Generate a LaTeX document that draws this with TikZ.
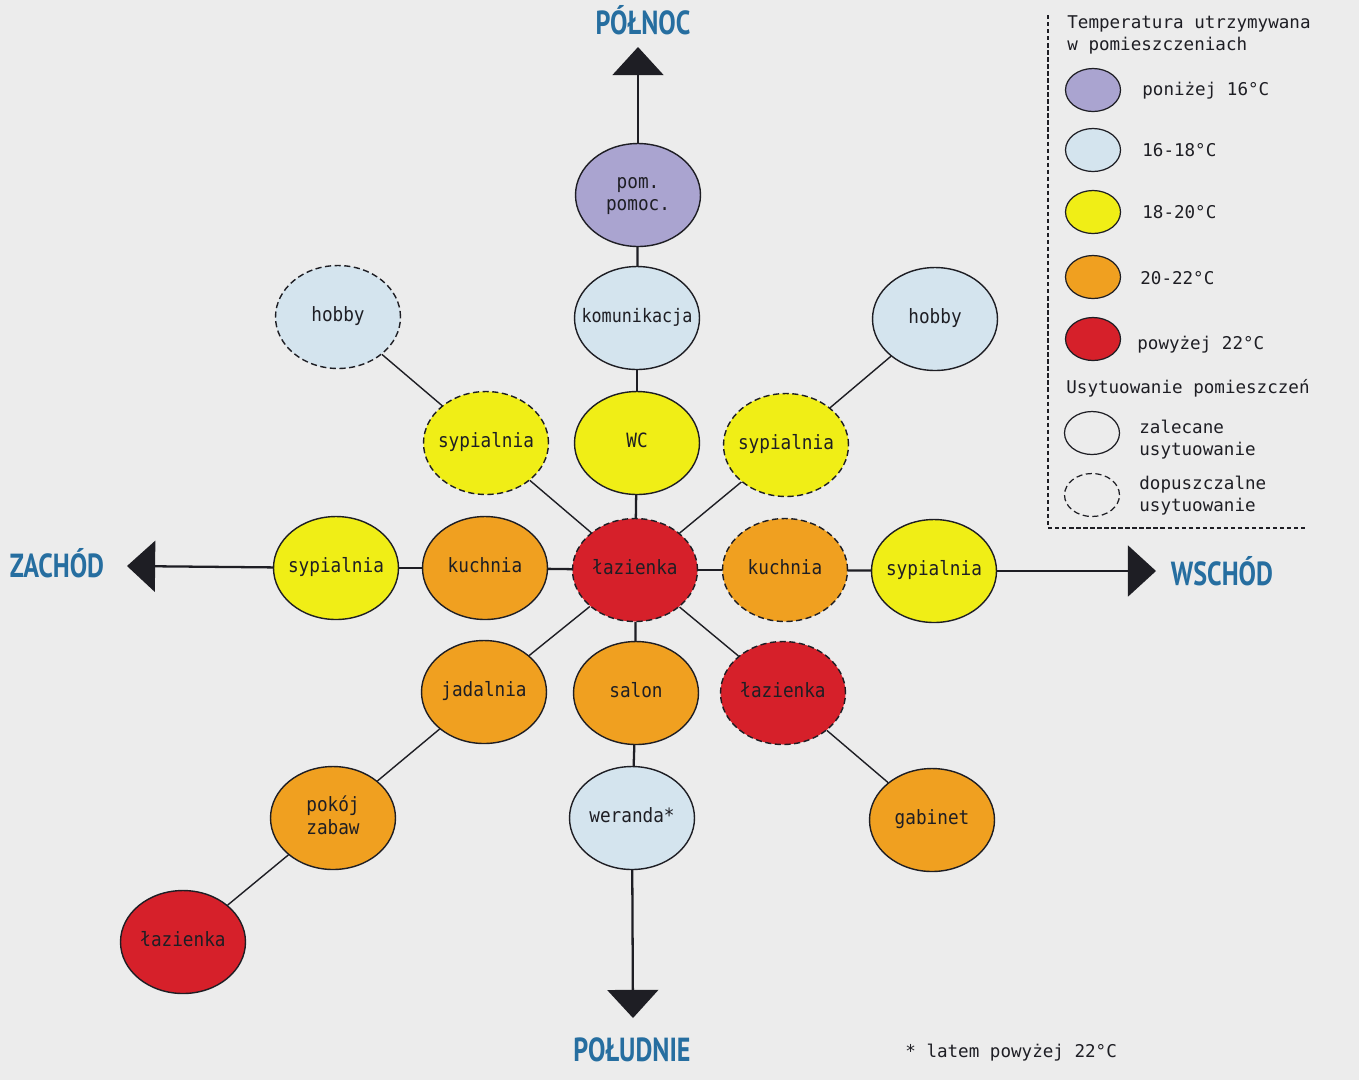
\documentclass[tikz,border=0pt]{standalone}
\usepackage{fontspec}
\usetikzlibrary{shapes.geometric,arrows.meta}
\setmainfont{DejaVu Sans Mono}
\newfontfamily\roomfont[FakeStretch=0.9]{DejaVu Sans Mono}
\newfontfamily\dirfont[FakeStretch=0.78]{PT Sans}
\newcommand{\rlab}[1]{\makebox[0pt]{\begin{tabular}{@{}c@{}}#1\end{tabular}}}
\definecolor{bgc}{RGB}{236,236,236}
\definecolor{cpurp}{RGB}{170,164,208}
\definecolor{clblue}{RGB}{212,228,238}
\definecolor{cyel}{RGB}{240,238,22}
\definecolor{cora}{RGB}{240,160,32}
\definecolor{cred}{RGB}{214,32,42}
\definecolor{dirblue}{RGB}{38,110,160}
\definecolor{ink}{RGB}{30,30,36}
\begin{document}
\begin{tikzpicture}[x=0.02cm,y=-0.02cm,
  room/.style={ellipse, draw=ink, line width=0.8pt, minimum width=2.5cm, minimum height=2.06cm, inner sep=0pt, font=\roomfont\fontsize{11.2}{13}\selectfont, text=ink},
  opt/.style={dash pattern=on 3.5pt off 2pt},
  purp/.style={fill=cpurp}, lblue/.style={fill=clblue}, yel/.style={fill=cyel}, ora/.style={fill=cora}, redc/.style={fill=cred},
  conn/.style={line width=0.8pt, draw=ink},
  axisline/.style={line width=1.3pt, draw=ink},
  axisarrow/.style={axisline, -{Triangle[length=16pt,width=29pt]}},
  dirlabel/.style={font=\dirfont\bfseries\fontsize{19}{22}\selectfont, text=dirblue},
  leg/.style={ellipse, draw=ink, line width=0.7pt, minimum width=1.1cm, minimum height=0.86cm, inner sep=0pt},
  legtext/.style={anchor=west, font=\fontsize{10}{12.5}\selectfont, text=ink, align=left, inner sep=0pt}
]
\fill[bgc] (0,0) rectangle (1359,1080);
\useasboundingbox (0,0) rectangle (1359,1080);

% rooms
\node[room,purp] (pom) at (638,195) {\rlab{pom.\\pomoc.}};
\node[room,lblue,font=\roomfont\fontsize{10.6}{13}\selectfont] (kom) at (637,318) {\rlab{komunikacja}};
\node[room,yel] (wc) at (637,443) {\rlab{WC}};
\node[room,redc,opt] (lazc) at (635,570) {\rlab{łazienka}};
\node[room,ora] (salon) at (636,693) {\rlab{salon}};
\node[room,lblue] (wer) at (632,818) {\rlab{weranda*}};
\node[room,ora] (kuchL) at (485,568) {\rlab{kuchnia}};
\node[room,yel] (sypW) at (336,568) {\rlab{sypialnia}};
\node[room,ora,opt] (kuchR) at (785,570) {\rlab{kuchnia}};
\node[room,yel] (sypE) at (934,571) {\rlab{sypialnia}};
\node[room,yel,opt] (sypNW) at (486,443) {\rlab{sypialnia}};
\node[room,lblue,opt] (hobNW) at (338,317) {\rlab{hobby}};
\node[room,yel,opt] (sypNE) at (786,445) {\rlab{sypialnia}};
\node[room,lblue] (hobNE) at (935,319) {\rlab{hobby}};
\node[room,ora] (jad) at (484,692) {\rlab{jadalnia}};
\node[room,ora] (pok) at (333,818) {\rlab{pokój\\zabaw}};
\node[room,redc] (lazSW) at (183,942) {\rlab{łazienka}};
\node[room,redc,opt] (lazSE) at (783,693) {\rlab{łazienka}};
\node[room,ora] (gab) at (932,820) {\rlab{gabinet}};

% axis ends
\coordinate (Ntip) at (638,47);
\coordinate (Stip) at (633,1018);
\coordinate (Wtip) at (127,566);
\coordinate (Etip) at (1156,571);

% vertical axis
\draw[axisarrow] (pom) -- (Ntip);
\draw[axisline] (pom) -- (kom);
\draw[axisline] (kom) -- (wc);
\draw[axisline] (wc) -- (lazc);
\draw[axisline] (lazc) -- (salon);
\draw[axisline] (salon) -- (wer);
\draw[axisarrow] (wer) -- (Stip);
% horizontal axis
\draw[axisarrow] (sypW) -- (Wtip);
\draw[axisline] (sypW) -- (kuchL);
\draw[axisline] (kuchL) -- (lazc);
\draw[axisline] (lazc) -- (kuchR);
\draw[axisline] (kuchR) -- (sypE);
\draw[axisarrow] (sypE) -- (Etip);
% diagonals
\draw[conn] (hobNW) -- (sypNW);
\draw[conn] (sypNW) -- (lazc);
\draw[conn] (hobNE) -- (sypNE);
\draw[conn] (sypNE) -- (lazc);
\draw[conn] (lazc) -- (jad);
\draw[conn] (jad) -- (pok);
\draw[conn] (pok) -- (lazSW);
\draw[conn] (lazc) -- (lazSE);
\draw[conn] (lazSE) -- (gab);

% direction labels
\node[dirlabel] (north) at (643,20) {PÓŁNOC};
\node[dirlabel] (west) at (57,563) {ZACHÓD};
\node[dirlabel] (east) at (1222,571) {WSCHÓD};
\node[dirlabel] (south) at (632,1050) {POŁUDNIE};

% legend
\draw[ink, line width=0.6pt, dash pattern=on 2.5pt off 1.5pt] (1048,15) -- (1048,528) -- (1305,528);
\node[legtext, anchor=north west] (ltitle) at (1067,15) {Temperatura utrzymywana\\w pomieszczeniach};
\node[leg,fill=cpurp] (l1) at (1093,90) {};
\node[leg,fill=clblue] (l2) at (1093,150) {};
\node[leg,fill=cyel] (l3) at (1093,212) {};
\node[leg,fill=cora] (l4) at (1093,277) {};
\node[leg,fill=cred] (l5) at (1093,339) {};
\node[leg] (l6) at (1092,433) {};
\node[leg,opt] (l7) at (1092,495) {};
\node[legtext] (t1) at (1142,91) {poniżej 16°C};
\node[legtext] (t2) at (1142,150) {16-18°C};
\node[legtext] (t3) at (1142,212) {18-20°C};
\node[legtext] (t4) at (1140,278) {20-22°C};
\node[legtext] (t5) at (1137,345) {powyżej 22°C};
\node[legtext] (t6) at (1066,388) {Usytuowanie pomieszczeń};
\node[legtext] (t7) at (1139,440) {zalecane\\usytuowanie};
\node[legtext] (t8) at (1139,496) {dopuszczalne\\usytuowanie};

% footnote
\node[legtext] (foot) at (905,1053) {* latem powyżej 22°C};
\end{tikzpicture}
\end{document}
